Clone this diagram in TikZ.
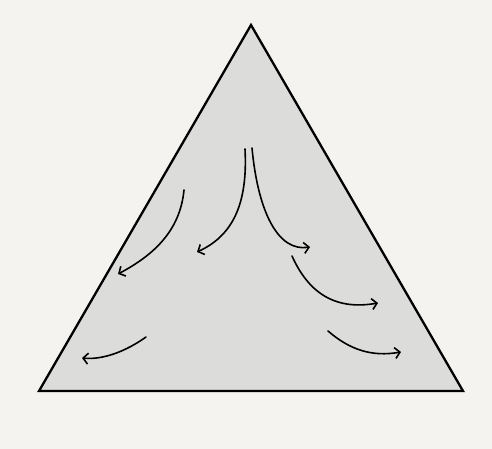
\documentclass[tikz,border=0pt]{standalone}
\usetikzlibrary{arrows.meta}
\definecolor{bg}{HTML}{F4F3F0}
\definecolor{tri}{HTML}{DCDCDA}
\begin{document}
\begin{tikzpicture}[x=1pt,y=-1pt,
  flow/.style={line width=1.6pt, line cap=round, -{Straight Barb[length=5pt,width=11pt,line width=1.6pt]}}]
\fill[bg] (0,0) rectangle (492,449);
\useasboundingbox (0,0) rectangle (492,449);
\coordinate (apex) at (251,25);
\coordinate (bl) at (39,391);
\coordinate (br) at (463,391);
\draw[fill=tri, line width=2.3pt, line join=miter] (apex) -- (bl) -- (br) -- cycle;
\draw[flow] (184,190) .. controls (180,232) and (152,256) .. (118,274);
\draw[flow] (245,149) .. controls (248,205) and (232,236) .. (197,252);
\draw[flow] (252,148) .. controls (258,212) and (278,252) .. (310,247);
\draw[flow] (292,256) .. controls (310,296) and (338,310) .. (378,303);
\draw[flow] (146,337) .. controls (125,352) and (102,360) .. (82,358);
\draw[flow] (328,331) .. controls (350,350) and (372,357) .. (401,352);
\end{tikzpicture}
\end{document}
